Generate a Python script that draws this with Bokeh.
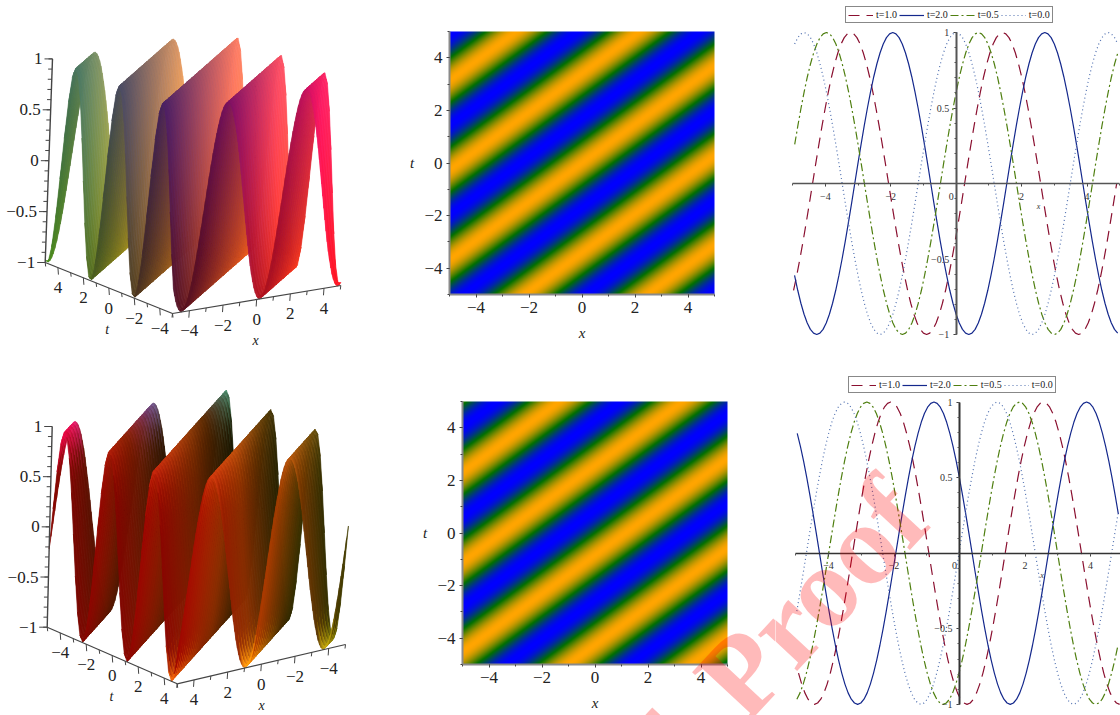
import numpy as np
from bokeh.core.properties import value
from bokeh.embed import file_html
from bokeh.layouts import column, row
from bokeh.models import FixedTicker, Label, Legend, LegendItem, LinearColorMapper, Range1d
from bokeh.plotting import figure
from bokeh.resources import INLINE

# ---- values ----
# one wavelength of the wave, from crest to crest
half_wave = [1.0, .991, .966, .924, .866, .793, .707, .609, .5, .383, .259, .131, 0.0,
             -.131, -.259, -.383, -.5, -.609, -.707, -.793, -.866, -.924, -.966, -.991, -1.0]
wave_profile = half_wave + half_wave[-2:0:-1]
wavelength_top = 4.65
wavelength_bottom = 4.66
speed = 1.36
crest_top_t0 = 0.0
crest_bottom_t0 = 1.15

series_names = ["t=1.0", "t=2.0", "t=0.5", "t=0.0"]
crests_top = [1.42, 2.71, 0.68, 0.0]
crests_bottom = [2.56, 3.88, 1.83, 1.15]
series_colors = ["#8a1030", "#14288c", "#4f7f10", "#5070b0"]
series_dashes = ["11 7", "solid", "8 3 2 3", "1 3"]

ticks_even = [-4, -2, 0, 2, 4]
ticks_all = [-5, -4, -3, -2, -1, 0, 1, 2, 3, 4, 5]
z_major = [-1, -0.5, 0, 0.5, 1]
z_labels = ["−1", "−0.5", "0", "0.5", "1"]
z_minor = [-1, -.9, -.8, -.7, -.6, -.5, -.4, -.3, -.2, -.1, 0, .1, .2, .3, .4, .5, .6, .7, .8, .9, 1]
tick_text = {-4: "−4", -2: "−2", 0: "0", 2: "2", 4: "4"}

SERIF = "Liberation Serif"
n_prof = len(wave_profile)
prof_x = np.arange(n_prof + 1)
prof_y = np.array(wave_profile + wave_profile[:1])


def field(x, t, crest, wavelength):
    phase = ((x - crest - speed * t) / wavelength * n_prof) % n_prof
    return np.interp(phase, prof_x, prof_y)


def curve(crest, wavelength, x_end):
    step = wavelength / n_prof
    k = np.arange(-200, 200)
    xs = crest + k * step
    keep = (xs >= -5.0) & (xs <= x_end)
    ys = np.array(wave_profile)[k % n_prof]
    return xs[keep], ys[keep]


def hex_colors(r, g, b):
    r8 = (np.clip(r, 0, 1) * 255).astype(int)
    g8 = (np.clip(g, 0, 1) * 255).astype(int)
    b8 = (np.clip(b, 0, 1) * 255).astype(int)
    return ["#%02x%02x%02x" % c for c in zip(r8, g8, b8)]


def surface_panel(y0, y1, origin, ex, et, ez, x_far, t_far, crest, wavelength, color_fn):
    p = figure(width=400, height=y1 - y0, x_range=Range1d(0, 400), y_range=Range1d(y1, y0),
               output_backend="svg", toolbar_location=None, min_border=0, frame_align=False,
               x_axis_type=None, y_axis_type=None, outline_line_color=None)
    p.grid.visible = False

    def project(x, t, z):
        x = np.asarray(x, float)
        t = np.asarray(t, float)
        z = np.asarray(z, float)
        sx = origin[0] + (x - origin[2]) * ex[0] + (t - origin[3]) * et[0] + (z + 1) / 2 * ez[0]
        sy = origin[1] + (x - origin[2]) * ex[1] + (t - origin[3]) * et[1] + (z + 1) / 2 * ez[1]
        return sx, sy

    nx, nt = 110, 44
    xg = np.linspace(x_far, -x_far, nx + 1)
    tg = np.linspace(t_far, -t_far, nt + 1)
    X, T = np.meshgrid(xg, tg)
    Z = field(X, T, crest, wavelength)
    SX, SY = project(X, T, Z)
    xs, ys, xc, tc, zc, sl = [], [], [], [], [], []
    for j in range(nt):
        for i in range(nx):
            xs.append([SX[j, i], SX[j, i + 1], SX[j + 1, i + 1], SX[j + 1, i]])
            ys.append([SY[j, i], SY[j, i + 1], SY[j + 1, i + 1], SY[j + 1, i]])
            xc.append((X[j, i] + X[j, i + 1]) / 2)
            tc.append((T[j, i] + T[j + 1, i]) / 2)
            zc.append((Z[j, i] + Z[j + 1, i + 1]) / 2)
            sl.append((Z[j, i + 1] - Z[j, i]) / (X[j, i + 1] - X[j, i]))
    cols = color_fn(np.array(xc), np.array(tc), np.array(zc), np.array(sl))
    p.patches(xs, ys, fill_color=cols, line_color=cols, line_width=0.6)
    return p, project


def color_top(x, t, z, s):
    fx, ft, fz = (x + 5) / 10, (t + 5) / 10, (z + 1) / 2
    shade = 1 - 0.10 * s
    return hex_colors((.30 + .70 * fx) * shade, (.07 + .50 * ft) * shade, (.12 + .28 * fz) * shade)


def color_bottom(x, t, z, s):
    fx, ft, fz = (x + 5) / 10, (t + 5) / 10, (z + 1) / 2
    base_r = np.interp(x, [-5, 0, 5], [.24, .64, .60])
    base_g = np.interp(x, [-5, 0, 5], [.22, .22, .03])
    floor = np.interp(x, [-5, 0, 5], [.38, .38, .82])
    light = floor + (1 - floor) * ft
    tip = np.clip((fz - .8) / .2, 0, 1) * np.clip((-t - 2) / 3, 0, 1)
    low = np.clip((.12 - fz) / .12, 0, 1) * np.clip((t - 2) / 3, 0, 1)
    crest = fz ** 10 * np.clip((t + 5) / 6, 0, 1) * (1 - tip)
    r = base_r * light + tip * np.interp(x, [-5, 0, 5], [.25, .25, .6]) + low * .5 + crest * .22
    g = base_g * light + tip * np.interp(x, [-5, 0, 5], [.6, .2, .0]) + low * .5 + crest * .14
    b = tip * np.interp(x, [-5, 0, 5], [.55, .6, .4]) + low * .05 + crest * .06
    shade = 1 - 0.06 * s
    return hex_colors(r * shade, g * shade, b * shade)


def box_axes(p, project, t_front, x_side, t_side, label_dy, tlab, xlab):
    ax = "#454545"
    zx, zy = project([x_side, x_side], [t_side, t_side], [-1, 1])
    p.line(zx, zy, line_color=ax, line_width=1.4)
    tx, ty = project([x_side, x_side], [t_side, t_front], [-1, -1])
    p.line(tx, ty, line_color=ax, line_width=1.2)
    xx, xy = project([x_side, -x_side], [t_front, t_front], [-1, -1])
    p.line(xx, xy, line_color=ax, line_width=1.2)
    mx, my = project([x_side] * len(z_minor), [t_side] * len(z_minor), z_minor)
    p.segment(mx - 4, my, mx, my, line_color=ax, line_width=1)
    jx, jy = project([x_side] * len(z_major), [t_side] * len(z_major), z_major)
    p.segment(jx - 8, jy, jx, jy, line_color=ax, line_width=1)
    p.text(jx - 10, jy, text=z_labels, text_font=value(SERIF), text_font_size="17px",
           text_align="right", text_baseline="middle", text_color="#222222")
    ticks = np.array(ticks_all, float)
    mask = np.isin(ticks, ticks_even)
    sx, sy = project([x_side] * len(ticks), ticks, [-1] * len(ticks))
    p.segment(sx, sy, sx + 0.5, sy + np.where(mask, 7, 4), line_color=ax, line_width=1)
    labels = [tick_text[int(v)] for v in ticks[mask]]
    p.text(sx[mask], sy[mask] + label_dy, text=labels, text_font=value(SERIF), text_font_size="17px",
           text_align="center", text_baseline="middle", text_color="#222222")
    sx, sy = project(ticks, [t_front] * len(ticks), [-1] * len(ticks))
    p.segment(sx, sy, sx - 0.5, sy + np.where(mask, 7, 4), line_color=ax, line_width=1)
    p.text(sx[mask], sy[mask] + label_dy, text=labels, text_font=value(SERIF), text_font_size="17px",
           text_align="center", text_baseline="middle", text_color="#222222")
    for (lx, ly, s) in (tlab + ("t",), xlab + ("x",)):
        p.text([lx], [ly], text=[s], text_font=value(SERIF), text_font_size="14px",
               text_font_style="italic", text_align="center", text_baseline="middle",
               text_color="#222222")


def heat_panel(width, height, left, top, crest, wavelength):
    ux, ut = 26.5, 26.3
    x_start = -5 - left / ux
    t_end = 5 + top / ut
    p = figure(width=width, height=height,
               x_range=Range1d(x_start, x_start + width / ux),
               y_range=Range1d(t_end - height / ut, t_end),
               output_backend="svg", toolbar_location=None, min_border=0,
               outline_line_color=None, frame_align=False)
    p.grid.visible = False
    gx = np.linspace(-5, 5, 265)
    gt = np.linspace(-5, 5, 263)
    X, T = np.meshgrid(gx, gt)
    stops = np.array([[0, 0, 255], [0, 112, 0], [255, 165, 0]], float)
    pal_pos = np.linspace(0, 2, 256)
    palette = ["#%02x%02x%02x" % tuple(int(np.interp(v, [0, 1, 2], stops[:, c])) for c in range(3))
               for v in pal_pos]
    mapper = LinearColorMapper(palette=palette, low=-1, high=1)
    p.image(image=[field(X, T, crest, wavelength)], x=-5, y=-5, dw=10, dh=10, color_mapper=mapper)
    p.xaxis.fixed_location = -5
    p.yaxis.fixed_location = -5
    for axis in (p.xaxis, p.yaxis):
        axis.bounds = (-5, 5)
        axis.ticker = FixedTicker(ticks=ticks_even, minor_ticks=ticks_all)
        axis.major_label_overrides = tick_text
        axis.major_label_text_font = SERIF
        axis.major_label_text_font_size = "17px"
        axis.major_label_text_color = "#222222"
        axis.major_label_standoff = 4
        axis.axis_line_color = "#8a8a8a"
        axis.axis_line_width = 2
        axis.major_tick_line_color = "#444444"
        axis.minor_tick_line_color = "#444444"
        axis.major_tick_out = 3
        axis.major_tick_in = 0
        axis.minor_tick_out = 2
        axis.minor_tick_in = 0
    for lx, ly, s in ((0, -5 - 38 / ut, "x"), (-5 - 37.5 / ux, 0, "t")):
        p.add_layout(Label(x=lx, y=ly, text=s, text_font=SERIF, text_font_size="15px",
                           text_font_style="italic", text_color="#222222",
                           text_align="center", text_baseline="middle"))
    return p


def line_panel(width, height, zero_x, zero_y, ux, uy, crests, wavelength, legend_at, axis_color):
    x_start = -zero_x / ux
    x_end = x_start + width / ux
    y_end = zero_y / uy
    p = figure(width=width, height=height, x_range=Range1d(x_start, x_end),
               y_range=Range1d(y_end - height / uy, y_end),
               output_backend="svg", toolbar_location=None, min_border=0,
               outline_line_color=None, frame_align=False)
    p.grid.visible = False
    items = []
    for name, crest, color, dash in zip(series_names, crests, series_colors, series_dashes):
        xs, ys = curve(crest, wavelength, min(5.0, x_end))
        r = p.line(xs, ys, line_color=color, line_width=1.2, line_dash=dash)
        items.append(LegendItem(label=name, renderers=[r]))
    p.xaxis.fixed_location = 0
    p.yaxis.fixed_location = 0
    p.xaxis.bounds = (-5, min(5.0, x_end))
    p.yaxis.bounds = (-1, 1)
    p.xaxis.ticker = FixedTicker(ticks=ticks_even, minor_ticks=ticks_all)
    p.xaxis.major_label_overrides = {-4: "−4", -2: "−2", 0: "0\u2003", 2: "2", 4: "4"}
    p.yaxis.ticker = FixedTicker(ticks=[-1, -0.5, 0.5, 1], minor_ticks=z_minor)
    p.yaxis.major_label_overrides = {-1: "−1", -0.5: "−0.5", 0.5: "0.5", 1: "1"}
    for axis in (p.xaxis, p.yaxis):
        axis.major_label_text_font = SERIF
        axis.major_label_text_font_size = "10px"
        axis.major_label_text_color = "#333333"
        axis.major_label_standoff = 4
        axis.axis_line_color = axis_color
        axis.major_tick_line_color = "#333333"
        axis.minor_tick_line_color = "#555555"
        axis.major_tick_out = 3
        axis.major_tick_in = 0
        axis.minor_tick_out = 2
        axis.minor_tick_in = 0
    p.xaxis.axis_line_width = 1.3
    p.yaxis.axis_line_width = 2
    p.add_layout(Label(x=2.52, y=-0.15, text="x", text_font=SERIF,
                       text_font_size="8px", text_font_style="italic", text_color="#333333",
                       text_align="center", text_baseline="middle"))
    legend = Legend(items=items, orientation="horizontal", location=legend_at, margin=0, padding=2,
                    spacing=2, label_standoff=3, glyph_width=25, glyph_height=8, label_height=9,
                    label_text_font=SERIF, label_text_font_size="10px", label_text_color="#222222",
                    border_line_color="#111111", border_line_width=1.2, background_fill_alpha=1)
    p.add_layout(legend, "center")
    return p


# ---- surfaces ----
p1, proj1 = surface_panel(0, 365, (44.7, 262.0, -5.0, 5.0), (16.83, -2.8), (-12.73, -5.1), (7.3, -203.6),
                          5.0, 5.0, crest_top_t0, wavelength_top, color_top)
box_axes(p1, proj1, -5, -5, 5, 20, (106.7, 329.0), (255.0, 340.0))

p4, proj4 = surface_panel(365, 715, (46.7, 626.7, 5.0, -5.0), (-16.83, 3.93), (13.0, 5.66), (5.0, -200.7),
                          -5.0, -5.0, crest_bottom_t0, wavelength_bottom, color_bottom)
box_axes(p4, proj4, 5, 5, -5, 20, (111.0, 696.0), (261.0, 705.0))

# ---- heat maps ----
p2 = heat_panel(375, 365, 49, 31, crest_top_t0, wavelength_top)
p5 = heat_panel(375, 350, 62, 36, crest_bottom_t0, wavelength_bottom)

# ---- wave curves ----
p3 = line_panel(345, 365, 180.7, 183.0, 32.7, 151.0, crests_top, wavelength_top, (70, 342), "#555555")
p6 = line_panel(345, 350, 184.0, 187.7, 32.75, 151.15, crests_bottom, wavelength_bottom, (73, 322), "#333333")

# ---- watermark across the two lower right panels ----
mark_start = (717.0, 698.0)
mark_prefix = (707.0, 708.0)
mark_end = (905.0, 497.0)
mark_style = dict(text_font=SERIF, text_font_size="116px", text_font_style="bold", text_color="#ff0000",
                  text_alpha=0.27, text_baseline="alphabetic", angle=47, angle_units="deg")


def heat_xy(px):
    return -5 + (px[0] - 461.7) / 26.5, 5 - (px[1] - 400.7) / 26.3


sx5, sy5 = heat_xy(mark_start)
px5, py5 = heat_xy(mark_prefix)
p5.add_layout(Label(x=sx5, y=sy5, text="Proof", text_align="left", **mark_style))
p5.add_layout(Label(x=px5, y=py5, text="Journal ", text_align="right", **mark_style))
p6.add_layout(Label(x=(mark_end[0] - 959.0) / 32.75, y=(552.7 - mark_end[1]) / 151.15,
                    text="Proof", text_align="right", **mark_style))

page = column(row(p1, p2, p3), row(p4, p5, p6))
open("out.html", "w").write(file_html(page, INLINE))
